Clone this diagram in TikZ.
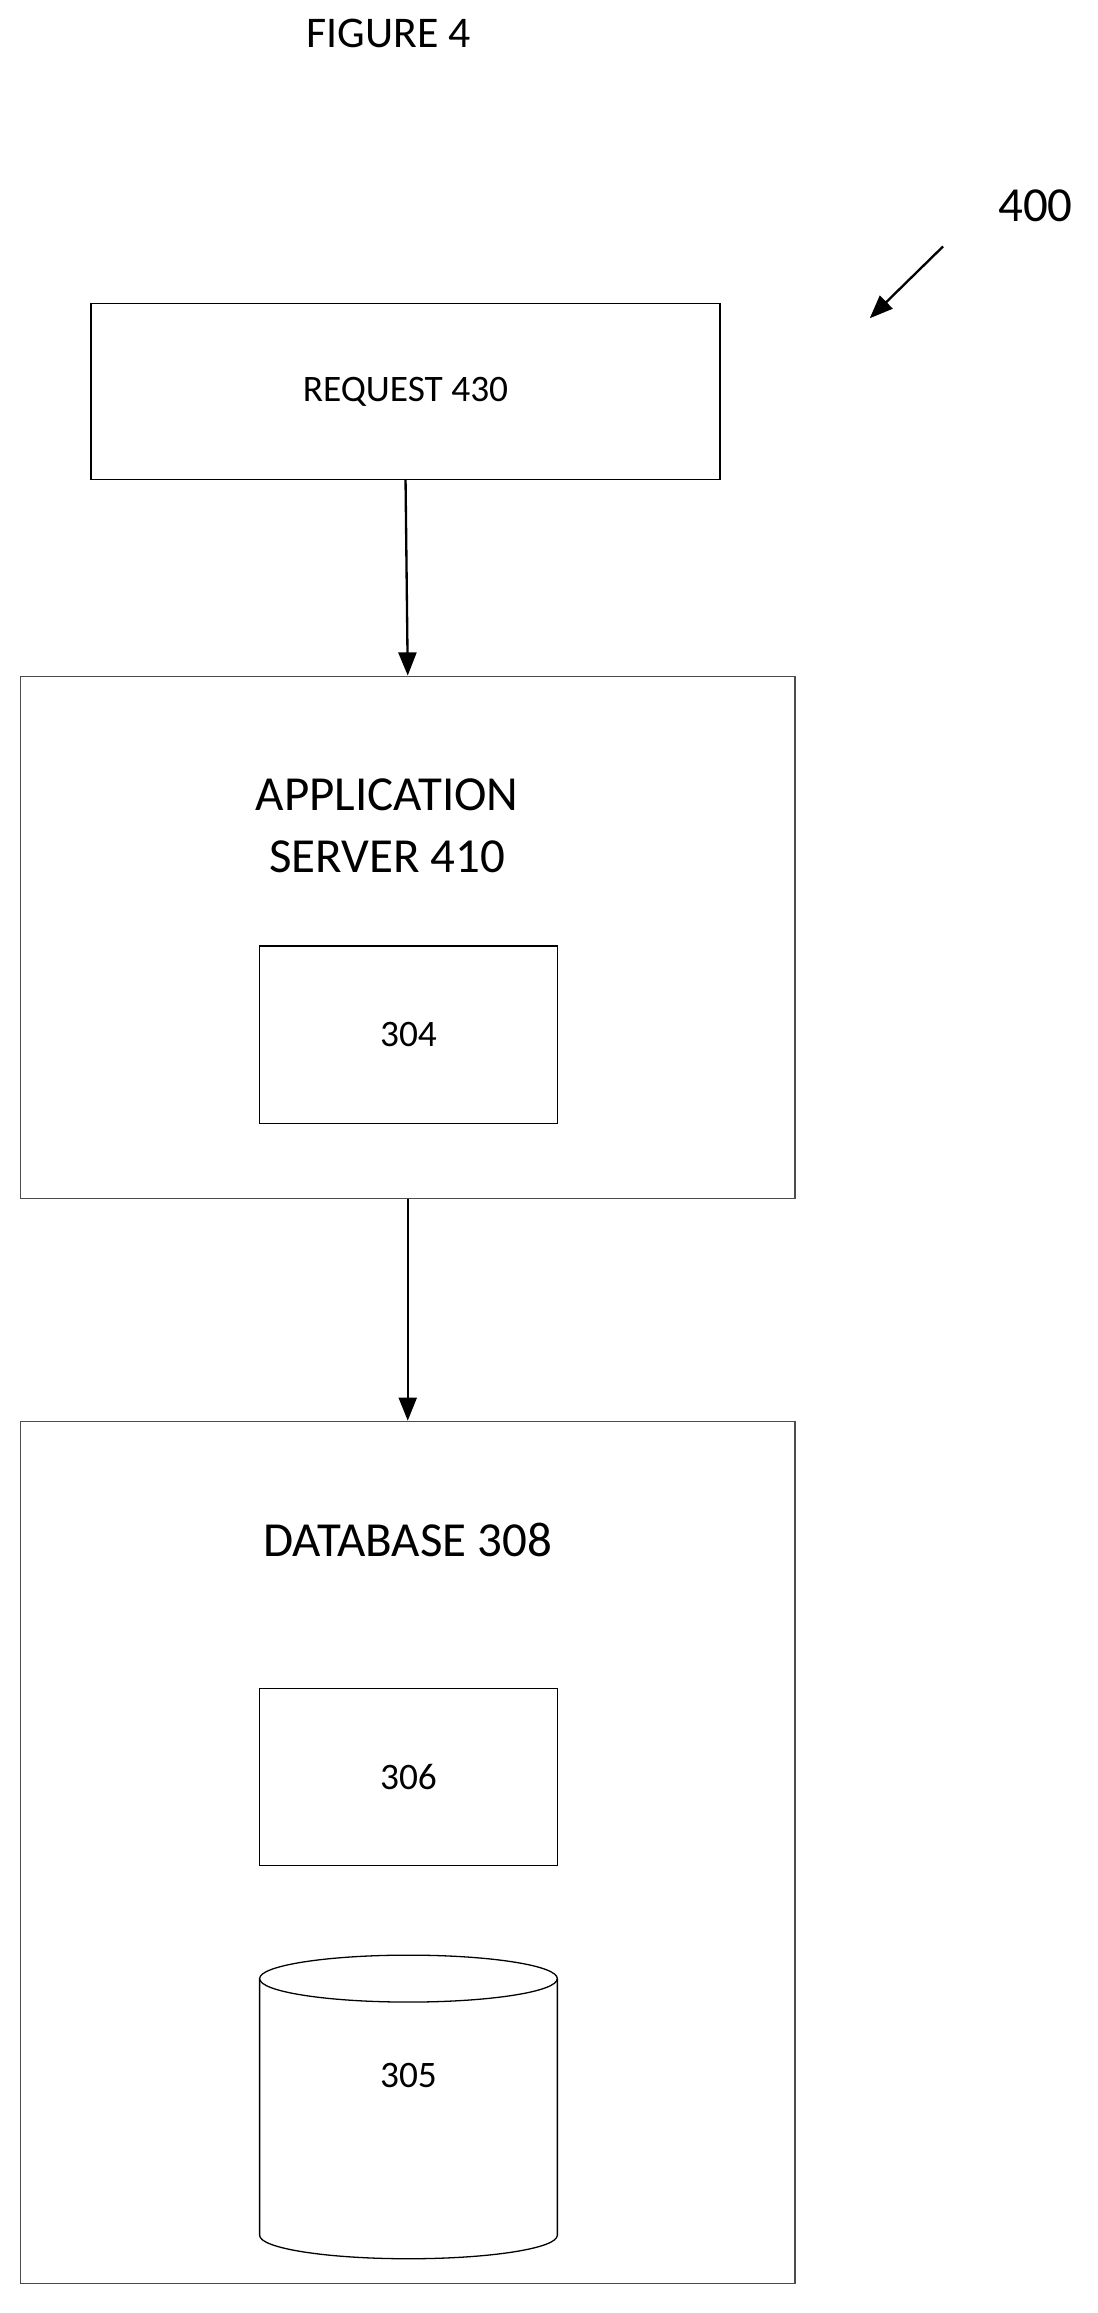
\documentclass[tikz,border=0pt]{standalone}
\usepackage{fontspec}
\setmainfont{Carlito}
\usetikzlibrary{positioning, arrows.meta}

\begin{document}
\begin{tikzpicture}[x=0.02cm, y=-0.02cm, every node/.style={align=center, inner sep=0pt},
    box/.style={draw, line width=0.5pt},
    outer/.style={draw=black!70, line width=0.5pt},
    link/.style={-{Triangle[length=9pt,width=7pt]}, line width=0.9pt}]
    \useasboundingbox (0,0) rectangle (748,1577);

			% Title
			\node[font=\fontsize{17}{20}\selectfont] (title) at (265,23) {FIGURE 4};
			\node[font=\fontsize{19}{22}\selectfont] (ref) at (706,140) {400};
			\coordinate (reftail) at (643,168);
			\coordinate (refhead) at (593,217);
			% Request
			\node[box, minimum width=8.58cm, minimum height=2.4cm, font=\fontsize{14.5}{17}\selectfont] (request) at (276.5,267) {REQUEST 430};
			% Application server
			\node[outer, minimum width=10.56cm, minimum height=7.12cm] (appserver) at (278,639) {};
			\node[font=\fontsize{19}{24}\selectfont] (applabel) at (264,563) {APPLICATION\\SERVER 410};
			\node[box, minimum width=4.06cm, minimum height=2.42cm, font=\fontsize{14.5}{17}\selectfont] (comp) at (278.5,705.5) {304};
			% Database
			\node[outer, minimum width=10.56cm, minimum height=11.76cm] (database) at (278,1263) {};
			\node[font=\fontsize{19}{23}\selectfont] (dblabel) at (278,1050) {DATABASE 308};
			\node[box, minimum width=4.06cm, minimum height=2.42cm, font=\fontsize{14.5}{17}\selectfont] (table) at (278.5,1211.5) {306};
			% Cylinder
			\draw[line width=0.5pt] (177,1349) -- (177,1524) arc[start angle=180, end angle=0, x radius=101.5, y radius=16] -- (380,1349);
			\draw[line width=0.5pt] (278.5,1349) ellipse[x radius=101.5, y radius=16];
			\node[font=\fontsize{14.5}{17}\selectfont] (store) at (278.5,1415) {305};
			% Arrows
			\draw[link] (reftail) -- (refhead);
			\draw[link] (request.south) -- (appserver.north);
			\draw[link] (appserver.south) -- (database.north);
		\end{tikzpicture}
\end{document}
